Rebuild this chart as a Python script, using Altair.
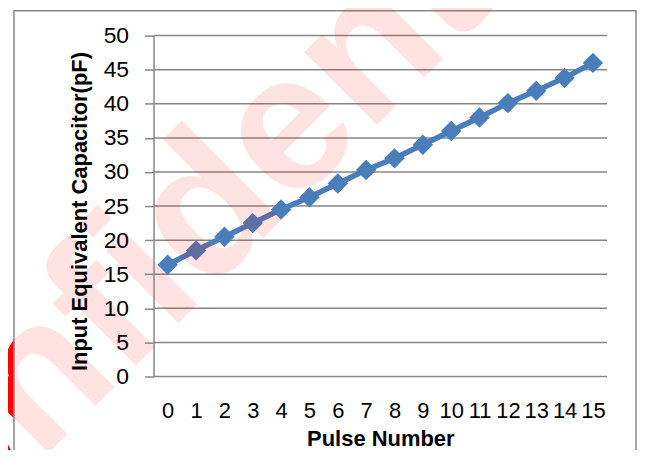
import altair as alt
import pandas as pd

# ---- data ----
pulse = list(range(16))
capacitance = [16.4, 18.5, 20.5, 22.5, 24.5, 26.3, 28.3, 30.3, 32.0, 34.0,
               36.0, 38.0, 40.1, 41.9, 43.8, 46.0]
y_ticks = [0, 5, 10, 15, 20, 25, 30, 35, 40, 45, 50]
x_title = "Pulse Number"
y_title = "Input Equivalent Capacitor(pF)"
watermark = ["Confidential"]

df = pd.DataFrame({"pulse": pulse, "cap": capacitance})
grid_df = pd.DataFrame({"cap": y_ticks})
one = pd.DataFrame({"t": watermark})

FONT = "Liberation Sans"
GRAY = "#878787"
BLUE = "#4a7ebb"

yscale = alt.Scale(domain=[0, 50], nice=False, zero=True)
xscale = alt.Scale(domain=[-0.5, 15.5], nice=False, zero=False)

yaxis = alt.Axis(
    values=y_ticks, title=y_title, grid=False, domain=True, domainColor=GRAY,
    domainWidth=1.5, ticks=True, tickSize=9, tickColor=GRAY, tickWidth=1.5,
    labelPadding=16, labelFontSize=23, labelFont=FONT, labelColor="black",
    labelFlush=False, labelOverlap=False,
    titleFont=FONT, titleFontSize=22, titleFontWeight="bold", titleColor="black",
    titleAngle=270, titleAlign="center", titleBaseline="alphabetic",
    titleX=-67, titleY=176, zindex=1)

WM_X, WM_Y = 58, 172

# watermark, solid (only visible outside the chart frame)
wm_solid = alt.Chart(one).mark_text(
    font=FONT, fontWeight="bold", fontSize=195,
    angle=315, align="center", baseline="middle", color="#ff0000"
).encode(text="t:N", x=alt.value(WM_X), y=alt.value(WM_Y))

# white chart background inside frame
bg = alt.Chart(one).mark_rect(fill="white", strokeWidth=0).encode(
    x=alt.value(-140), x2=alt.value(520), y=alt.value(-60), y2=alt.value(460)
)

frame = alt.Chart(one).mark_rect(fillOpacity=0, stroke=GRAY, strokeWidth=1.5).encode(
    x=alt.value(-140), x2=alt.value(484), y=alt.value(-25), y2=alt.value(460)
)

grid = alt.Chart(grid_df).mark_rule(color=GRAY, strokeWidth=1.5).encode(
    y=alt.Y("cap:Q", scale=yscale, axis=yaxis)
)

line = alt.Chart(df).mark_line(
    color=BLUE, strokeWidth=5.5,
    point=alt.OverlayMarkDef(shape="diamond", size=420, filled=True, color=BLUE, opacity=1)
).encode(
    x=alt.X("pulse:Q", scale=xscale, axis=alt.Axis(
        values=pulse, format="d", title=x_title, grid=False, domain=False,
        ticks=False, tickSize=0, labelPadding=24, labelFontSize=22, labelFont=FONT,
        labelColor="black", labelFlush=False, labelOverlap=False,
        titleFont=FONT, titleFontSize=22, titleFontWeight="bold", titleColor="black",
        titleBaseline="alphabetic", titleY=69, zindex=1)),
    y=alt.Y("cap:Q", scale=yscale, axis=yaxis),
)

# watermark, translucent over the chart
wm_light = alt.Chart(one).mark_text(
    font=FONT, fontWeight="bold", fontSize=195,
    angle=315, align="center", baseline="middle", color="#ff0000", opacity=0.11
).encode(text="t:N", x=alt.value(WM_X), y=alt.value(WM_Y))

chart = alt.layer(wm_solid, bg, frame, grid, line, wm_light).properties(
    width=455, height=342,
    autosize=alt.AutoSizeParams(type="none"),
    padding={"left": 146, "top": 27, "right": 30, "bottom": 73},
    background="white",
).configure_view(stroke=None)

chart.save("out.html", embed_options={"renderer": "svg", "actions": False})
